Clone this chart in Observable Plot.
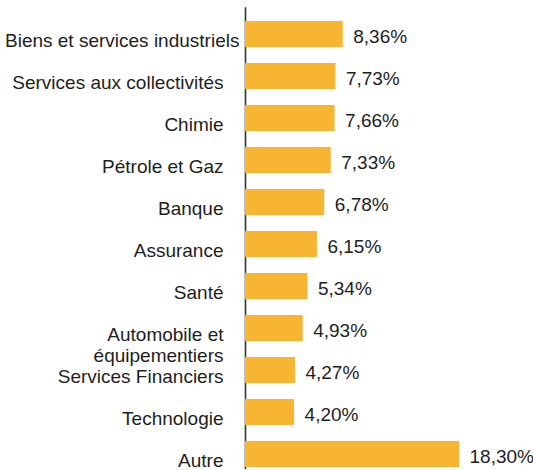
<!DOCTYPE html>
<html>
<head>
<meta charset="utf-8">
<script src="https://cdn.jsdelivr.net/npm/d3@7"></script>
<script src="https://cdn.jsdelivr.net/npm/@observablehq/plot@0.6"></script>
<style>
  html, body { margin: 0; padding: 0; background: #ffffff; }
  #chart svg { display: block; }
</style>
</head>
<body>
<div id="chart"></div>
<script>
const sectors = [
  "Biens et services industriels",
  "Services aux collectivités",
  "Chimie",
  "Pétrole et Gaz",
  "Banque",
  "Assurance",
  "Santé",
  "Automobile et\néquipementiers",
  "Services Financiers",
  "Technologie",
  "Autre"
];
const weights = [8.36, 7.73, 7.66, 7.33, 6.78, 6.15, 5.34, 4.93, 4.27, 4.20, 18.30];
const valueLabels = ["8,36%", "7,73%", "7,66%", "7,33%", "6,78%", "6,15%", "5,34%", "4,93%", "4,27%", "4,20%", "18,30%"];

const data = sectors.map((s, i) => ({sector: s, weight: weights[i], label: valueLabels[i]}));

const FONT = "'Liberation Sans Narrow', 'Liberation Sans', Roboto, sans-serif";
const BAR = "#f7b531";
const INK = "#1e1e1e";

const chart = Plot.plot({
  width: 533,
  height: 470,
  marginLeft: 245,
  marginRight: 74,
  marginTop: 18.3,
  marginBottom: 0.7,
  style: {fontFamily: FONT, background: "#ffffff", color: INK},
  x: {domain: [0, 18.3], axis: null},
  y: {domain: sectors, paddingInner: 0.37, paddingOuter: 0, axis: null},
  marks: [
    Plot.ruleX([0], {stroke: "#333333", strokeWidth: 1.6, insetTop: -11}),
    Plot.barX(data, {x: "weight", y: "sector", fill: BAR}),
    Plot.text(data, {
      x: () => 0, y: "sector", text: "sector",
      textAnchor: "end", lineAnchor: "top", dx: -22, dy: -3,
      lineHeight: 1.13, fontSize: 19, fill: INK, className: "sector-label"
    }),
    Plot.text(data, {
      x: "weight", y: "sector", text: "label",
      textAnchor: "start", dx: 10, dy: 2.5, fontSize: 19, fill: INK
    })
  ]
});

document.getElementById("chart").append(chart);

// keep long labels inside the left edge, as in the original layout
d3.select(chart).selectAll(".sector-label text").each(function () {
  const b = this.getBBox();
  const t = this.getCTM();
  const left = b.x + (t ? t.e : 0);
  if (left < 5) this.setAttribute("x", 5 - left);
});
</script>
</body>
</html>
